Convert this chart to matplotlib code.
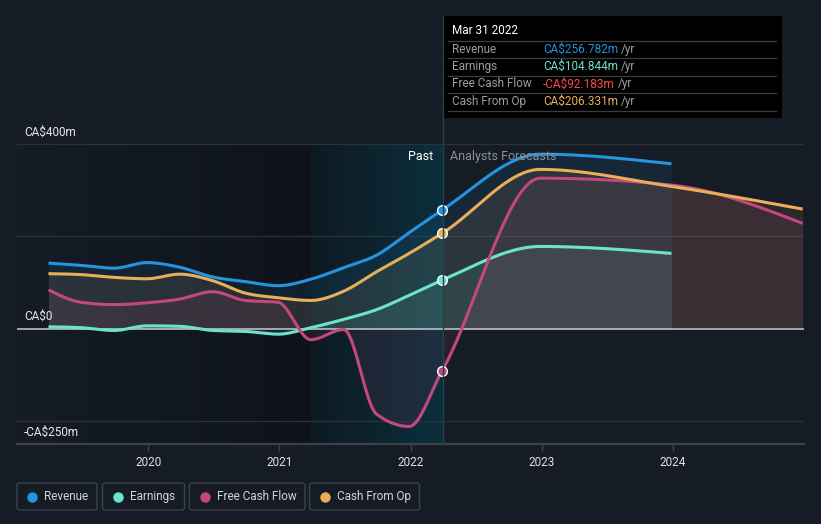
import numpy as np
import matplotlib
matplotlib.use("Agg")
import matplotlib.pyplot as plt
from matplotlib.patches import Rectangle, FancyBboxPatch
from matplotlib.lines import Line2D
from matplotlib.colors import to_rgb

plt.rcParams['font.family'] = ['Roboto', 'DejaVu Sans']

# ---- data (CA$ m, fiscal quarters ending late March / June / Sept / Dec) ----
past_t = [2019.24, 2019.49, 2019.74, 2019.99, 2020.24, 2020.49, 2020.74,
          2020.99, 2021.24, 2021.49, 2021.74, 2021.99, 2022.24]
fc_t = [2022.99, 2023.99, 2024.99]

revenue = [142, 137, 131, 143, 133, 112, 102, 93, 107, 132, 159, 208, 256.782]
revenue_fc = [378, 357]

earnings = [4, 2, -4, 6, 5, -4, -6, -12, 2, 20, 41, 72, 104.844]
earnings_fc = [178, 163]

fcf = [84, 57, 52, 56, 64, 80, 61, 57, -24, -2, -185, -212, -92.183]
fcf_fc = [326, 311, 228]

cfo = [119, 117, 111, 108, 118, 104, 77, 67, 61, 81, 123, 163, 206.331]
cfo_fc = [345, 308, 259]

series = [
    ("Revenue", revenue, revenue_fc, "#2394df", "CA$256.782m"),
    ("Earnings", earnings, earnings_fc, "#6ce3cf", "CA$104.844m"),
    ("Free Cash Flow", fcf, fcf_fc, "#c4477f", "-CA$92.183m"),
    ("Cash From Op", cfo, cfo_fc, "#e9ae5a", "CA$206.331m"),
]
value_colors = ["#2394df", "#6ce3cf", "#ff4848", "#e9ae5a"]

y_ticks = [-200, 0, 200, 400]
y_labels = {400: "CA$400m", 0: "CA$0", -250: "-CA$250m"}
x_years = [2020, 2021, 2022, 2023, 2024]

BG = "#151c26"
W, H = 821, 524


def monotone(xs, ys, n=40):
    """d3-style monotoneX curve through the points"""
    xs = np.asarray(xs, float)
    ys = np.asarray(ys, float)
    h = np.diff(xs)
    s = np.diff(ys) / h
    m = np.zeros(len(xs))
    for i in range(1, len(xs) - 1):
        p = (s[i - 1] * h[i] + s[i] * h[i - 1]) / (h[i - 1] + h[i])
        m[i] = (np.sign(s[i - 1]) + np.sign(s[i])) * min(abs(s[i - 1]), abs(s[i]), 0.5 * abs(p))
    m[0] = (3 * s[0] - m[1]) / 2
    m[-1] = (3 * s[-1] - m[-2]) / 2
    out_x, out_y = [], []
    for i in range(len(xs) - 1):
        u = np.linspace(0, 1, n)
        h00 = 2 * u**3 - 3 * u**2 + 1
        h10 = u**3 - 2 * u**2 + u
        h01 = -2 * u**3 + 3 * u**2
        h11 = u**3 - u**2
        yy = h00 * ys[i] + h10 * h[i] * m[i] + h01 * ys[i + 1] + h11 * h[i] * m[i + 1]
        out_x.extend(xs[i] + u * h[i])
        out_y.extend(yy)
    return np.array(out_x), np.array(out_y)


def fx(px):
    return px / W


def fy(py):
    return 1 - py / H


fig = plt.figure(figsize=(W / 100, H / 100), dpi=100, facecolor=BG)
ax = fig.add_axes([fx(17), fy(444), (804 - 17) / W, 300 / H])
ax.set_facecolor(BG)
x0, x1 = 2019.0, 2025.0
y0, y1 = -250, 400
now = past_t[-1]
hl_start = now - 1.0

# darker past background, fading in from the left
grad = np.zeros((2, 200, 4))
grad[..., 3] = np.linspace(0.0, 0.3, 200)
ax.imshow(grad, extent=[x0, hl_start, y0, y1], aspect='auto', zorder=0)

# highlighted last twelve months
c_a, c_b = np.array(to_rgb("#0e1a22")), np.array(to_rgb("#0b2f3c"))
hl = np.zeros((2, 200, 4))
mix = np.linspace(0, 1, 200)[:, None]
hl[..., :3] = c_a * (1 - mix) + c_b * mix
hl[..., 3] = 1.0
ax.imshow(hl, extent=[hl_start, now, y0, y1], aspect='auto', zorder=0)

for v in y_ticks:
    if v == 0:
        continue
    ax.axhline(v, color="#2b323c", lw=0.9, zorder=1)

for name, past, fc, col, _ in series:
    t = past_t + fc_t[:len(fc)]
    v = past + fc
    cx, cy = monotone(t, v)
    ax.fill_between(cx, cy, 0, color=col, alpha=0.1, lw=0, zorder=2)
    ax.plot(cx, cy, color=col, lw=2.2, solid_capstyle='butt', zorder=4)
    ax.plot([now], [past[-1]], marker='o', ms=7, mfc=col, mec='white', mew=1.0, zorder=6)

ax.axhline(0, color="#c8cbcf", lw=1.1, zorder=3)
ax.axhline(y0, color="#3b424c", lw=1.6, zorder=3, clip_on=False)

ax.set_xlim(x0, x1)
ax.set_ylim(y0, y1)
for sp in ax.spines.values():
    sp.set_visible(False)
ax.set_yticks([])
ax.set_xticks(x_years)
ax.set_xticklabels([str(y) for y in x_years], color="#dfe1e4", fontsize=8.5)
ax.tick_params(axis='x', length=5, color="#3b424c", width=1, pad=4)

for v, lab in y_labels.items():
    ax.annotate(lab, (2019.055, v), xytext=(0, 4), textcoords='offset points',
                color="#e8e9eb", fontsize=8.5, va='bottom', ha='left')

ax.text(now - 0.07, 372, "Past", color="#ffffff", fontsize=9, ha='right', va='center', zorder=7)
ax.text(now + 0.06, 372, "Analysts Forecasts", color="#8b9098", fontsize=9, ha='left', va='center', zorder=7)

# vertical marker line through the tooltip
fig.add_artist(Line2D([fx(443), fx(443)], [fy(16), fy(444)], color="#22414c", lw=1.0))

# tooltip
fig.add_artist(Rectangle((fx(443), fy(118)), (782 - 443) / W, (118 - 16) / H,
                         facecolor="#000000", edgecolor='none'))
fig.text(fx(452), fy(31), "Mar 31 2022", color="#ffffff", fontsize=8.5, va='center')
for ly in [41.3, 58.3, 76, 93.3, 110.5]:
    fig.add_artist(Line2D([fx(448), fx(776)], [fy(ly), fy(ly)], color="#3a3d42", lw=0.9))
row_y = [49.3, 66.7, 84, 101.3]
renderer = fig.canvas.get_renderer()
for (name, _, _, _, val), vc, ry in zip(series, value_colors, row_y):
    fig.text(fx(452), fy(ry), name, color="#9a9da3", fontsize=8.5, va='center')
    tv = fig.text(fx(543), fy(ry), val, color=vc, fontsize=8.5, va='center')
    bb = tv.get_window_extent(renderer=renderer)
    fig.text(bb.x1 / W + 3 / W, fy(ry), "/yr", color="#9a9da3", fontsize=8.5, va='center')

# legend
boxes = [(17, 97), (102.5, 184.5), (189.5, 305), (309.5, 419.5)]
dots = [31.5, 118, 205, 324.5]
texts = [44, 130, 217, 337]
for (name, _, _, col, _), (bx0, bx1), dx, tx in zip(series, boxes, dots, texts):
    fig.add_artist(FancyBboxPatch((fx(bx0), fy(510)), (bx1 - bx0) / W, 27 / H,
                                  boxstyle="round,pad=0,rounding_size=0.004",
                                  facecolor='none', edgecolor="#3b424c", lw=1.0))
    fig.add_artist(Line2D([fx(dx)], [fy(496.5)], marker='o', ms=6.5, color=col, mec=col))
    fig.text(fx(tx), fy(496.5), name, color="#d2d5d9", fontsize=8.5, va='center')

fig.savefig("out.png", dpi=100, facecolor=BG)
